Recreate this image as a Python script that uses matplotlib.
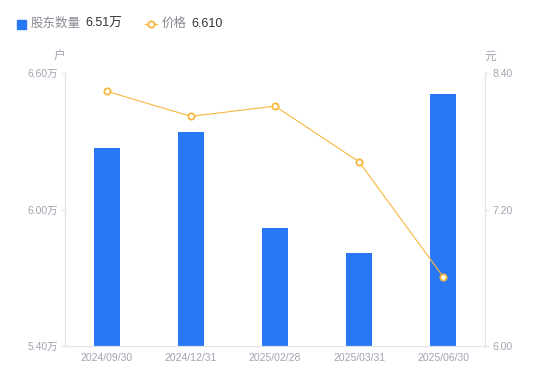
import matplotlib
matplotlib.use('Agg')
import matplotlib.pyplot as plt
from matplotlib.lines import Line2D
from matplotlib.patches import Rectangle

plt.rcParams['font.family'] = ['Liberation Sans', 'Noto Sans CJK SC', 'DejaVu Sans']

dates = ['2024/09/30', '2024/12/31', '2025/02/28', '2025/03/31', '2025/06/30']
holders = [6.27, 6.34, 5.92, 5.81, 6.51]   # 万户
price = [8.24, 8.02, 8.11, 7.62, 6.61]      # 元
left_ticks = [5.40, 6.00, 6.60]
right_ticks = [6.00, 7.20, 8.40]

bar_color = '#2878f5'
line_color = '#f7b73f'
grey = '#a3a3b0'
axis_color = '#e3e3e3'

fig = plt.figure(figsize=(5.5, 3.81), dpi=100)
ax = fig.add_axes([0.118, 0.092, 0.764, 0.716])
ax2 = ax.twinx()

x = list(range(len(dates)))
ax.bar(x, holders, width=0.3, color=bar_color, zorder=2)
ax.set_ylim(5.40, 6.60)
ax.set_xlim(-0.5, len(dates) - 0.5)
ax.set_yticks(left_ticks)
ax.set_yticklabels(['{:.2f}万'.format(v) for v in left_ticks])
ax.set_xticks(x)
ax.set_xticklabels(dates)

ax2.plot(x, price, color=line_color, lw=0.8, marker='o', ms=4.5,
         mfc='white', mec=line_color, mew=1.3, zorder=3)
ax2.set_ylim(6.00, 8.40)
ax2.set_yticks(right_ticks)
ax2.set_yticklabels(['{:.2f}'.format(v) for v in right_ticks])

for a in (ax, ax2):
    for s in a.spines.values():
        s.set_color(axis_color)
    a.spines['top'].set_visible(False)
    a.tick_params(colors=grey, labelsize=7.5, length=3, width=0.8, pad=2)
    a.tick_params(axis='y', color=axis_color, labelcolor=grey)
ax.tick_params(axis='x', length=0, pad=5, labelcolor=grey)

fig.text(59 / 550, 1 - 57 / 381, '户', color=grey, fontsize=8.5, ha='center', va='center')
fig.text(490 / 550, 1 - 57 / 381, '元', color=grey, fontsize=8.5, ha='center', va='center')

# legend
ly = 1 - 24 / 381
fig.patches.append(Rectangle((17 / 550, ly - 4.5 / 381), 9 / 550, 9 / 381,
                             color=bar_color, transform=fig.transFigure, figure=fig))
fig.text(31 / 550, ly, '股东数量', color='#8a8a96', fontsize=9, va='center')
fig.text(85 / 550, ly, '6.51万', color='#333333', fontsize=9, va='center')
fig.lines.append(Line2D([145 / 550, 157 / 550], [ly, ly], color=line_color, lw=1,
                        transform=fig.transFigure))
fig.lines.append(Line2D([151 / 550], [ly], color=line_color, marker='o', ms=4.5,
                        mfc='white', mec=line_color, mew=1.3, transform=fig.transFigure))
fig.text(162 / 550, ly, '价格', color='#8a8a96', fontsize=9, va='center')
fig.text(191 / 550, ly, '6.610', color='#333333', fontsize=9, va='center')

fig.savefig('out.png', dpi=100)
